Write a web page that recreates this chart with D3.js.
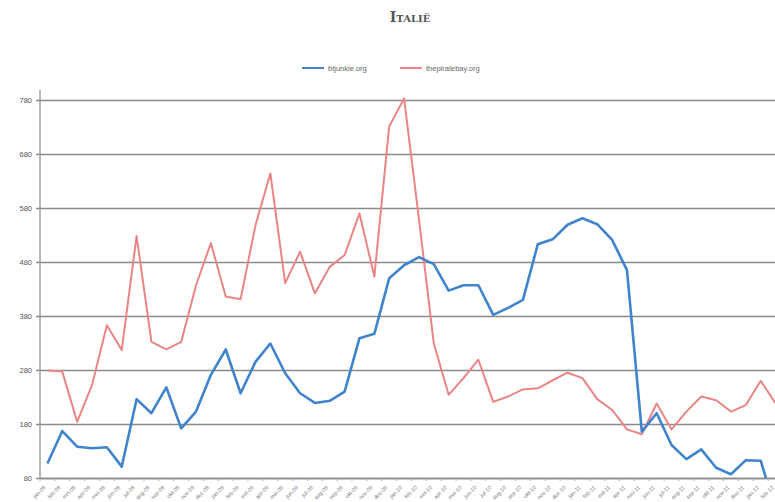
<!DOCTYPE html>
<html>
<head>
<meta charset="utf-8">
<script src="https://cdn.jsdelivr.net/npm/d3@7"></script>
<style>
  body { margin: 0; background: #fff; }
  svg { display: block; font-family: 'Liberation Sans', Arial, sans-serif; }
</style>
</head>
<body>
<div id="chart"></div>
<script>
const months = ['jan', 'feb', 'mrt', 'apr', 'mei', 'jun', 'jul', 'aug', 'sep', 'okt', 'nov', 'dec'];
const years = ['08', '09', '10', '11', '12'];

// jan-08 .. feb-12
const categories = [];
years.forEach(y => months.forEach(m => categories.push(`${m}-${y}`)));
categories.length = 50;

const btjunkie = [
  107, 167, 138, 135, 137, 101, 226, 200, 248, 172,
  203, 271, 318, 237, 295, 329, 274, 237, 219, 223,
  240, 339, 347, 450, 474, 489, 476, 427, 437, 437,
  382, 395, 410, 513, 522, 549, 561, 550, 521, 465,
  166, 200, 141, 115, 133, 99, 87, 113, 112, 20
];

const piratebay = [
  279, 277, 184, 252, 363, 317, 528, 332, 318, 332,
  437, 515, 416, 411, 548, 644, 441, 499, 422, 471,
  493, 570, 453, 731, 783, 560, 329, 234, 265, 299,
  221, 231, 244, 246, 261, 275, 265, 226, 206, 170,
  161, 218, 170, 203, 231, 224, 203, 215, 260, 218
];

const yTicks = [80, 180, 280, 380, 480, 580, 680, 780];

const series = [
  { name: 'btjunkie.org', values: btjunkie, color: '#3f84cc', width: 2.6 },
  { name: 'thepiratebay.org', values: piratebay, color: '#ea8585', width: 2 }
];

const width = 775;
const height = 502;
const margin = { top: 100, right: -8, bottom: 24, left: 40 };
const innerW = width - margin.left - margin.right;
const innerH = height - margin.top - margin.bottom;

const svg = d3.select('#chart').append('svg')
  .attr('width', width)
  .attr('height', height);

// title
svg.append('text')
  .attr('x', 410).attr('y', 22)
  .attr('text-anchor', 'middle')
  .style('font-family', "'DejaVu Serif', serif")
  .style('font-weight', 'bold')
  .style('font-variant', 'small-caps')
  .style('font-size', '14px')
  .style('fill', '#555')
  .text('Italië');

// legend
const legend = svg.append('g').attr('transform', 'translate(302, 68)');
const legendX = [0, 98];
series.forEach((s, i) => {
  const g = legend.append('g').attr('transform', `translate(${legendX[i]}, 0)`);
  g.append('line')
    .attr('x1', 0).attr('x2', 22).attr('y1', 0).attr('y2', 0)
    .attr('stroke', s.color).attr('stroke-width', 2);
  g.append('text')
    .attr('x', 26).attr('y', 2.5)
    .style('font-size', '7.5px')
    .style('fill', '#666')
    .text(s.name);
});

const g = svg.append('g').attr('transform', `translate(${margin.left}, ${margin.top})`);

const x = d3.scaleBand().domain(categories).range([0, innerW]);
const y = d3.scaleLinear().domain([80, 780]).range([innerH, 0]);

// gridlines + y axis
const yAxis = g.append('g')
  .call(d3.axisLeft(y).tickValues(yTicks).tickSize(-innerW).tickPadding(8).tickFormat(d3.format('d')));
yAxis.select('.domain').remove();
yAxis.selectAll('.tick line')
  .attr('x1', -4)
  .attr('stroke', '#8a8a8a')
  .attr('stroke-width', 1.4);
yAxis.selectAll('.tick text')
  .style('font-size', '7.5px')
  .style('fill', '#555');

// vertical axis line
g.append('line')
  .attr('x1', 0).attr('x2', 0).attr('y1', -10).attr('y2', innerH)
  .attr('stroke', '#999').attr('stroke-width', 1.4);

// x axis
const xAxis = g.append('g')
  .attr('transform', `translate(0, ${innerH})`)
  .call(d3.axisBottom(x).tickSize(0).tickPadding(0));
xAxis.select('.domain').attr('stroke', '#8a8a8a').attr('stroke-width', 1.4);
xAxis.selectAll('.tick text')
  .attr('text-anchor', 'end')
  .attr('y', 0)
  .attr('dx', '-8')
  .attr('dy', '6')
  .attr('transform', 'rotate(-45)')
  .style('font-size', '5.5px')
  .style('fill', '#777');

// small tick marks between categories
g.append('g').selectAll('line')
  .data(categories)
  .enter().append('line')
  .attr('x1', d => x(d)).attr('x2', d => x(d))
  .attr('y1', innerH).attr('y2', innerH + 3)
  .attr('stroke', '#aaa');

g.append('clipPath').attr('id', 'plot-clip')
  .append('rect')
  .attr('x', 0).attr('y', -10)
  .attr('width', innerW).attr('height', innerH + 10);

const line = d3.line()
  .x((d, i) => x(categories[i]) + x.bandwidth() / 2)
  .y(d => y(d));

// red first so blue sits above it
series.slice().reverse().forEach(s => {
  g.append('path')
    .datum(s.values)
    .attr('clip-path', 'url(#plot-clip)')
    .attr('fill', 'none')
    .attr('stroke', s.color)
    .attr('stroke-width', s.width)
    .attr('stroke-linejoin', 'round')
    .attr('d', line);
});
</script>
</body>
</html>
